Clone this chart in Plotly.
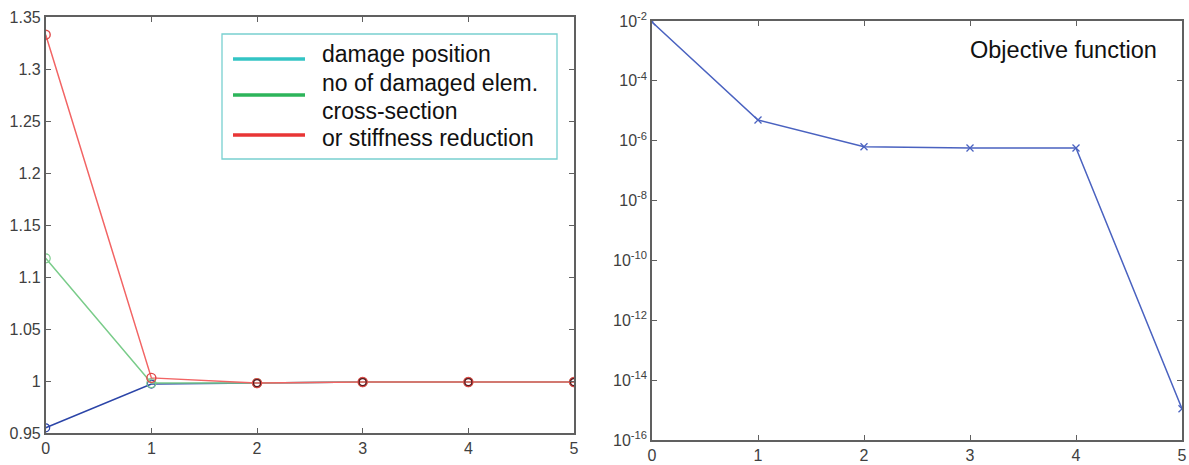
import plotly.graph_objects as go

W, H = 1189, 465

iterations = [0, 1, 2, 3, 4, 5]
damage_position = [0.955, 0.997, 0.998, 0.999, 0.999, 0.999]
damaged_elements = [1.118, 0.998, 0.998, 0.999, 0.999, 0.999]
stiffness_reduction = [1.333, 1.003, 0.998, 0.999, 0.999, 0.999]
objective = [9.3e-3, 4.9e-6, 6.3e-7, 5.7e-7, 5.7e-7, 1.1e-15]

left_yticks = [0.95, 1.0, 1.05, 1.1, 1.15, 1.2, 1.25, 1.3, 1.35]
left_yticktext = ["0.95", "1", "1.05", "1.1", "1.15", "1.2", "1.25", "1.3", "1.35"]
right_exponents = [-16, -14, -12, -10, -8, -6, -4, -2]

legend_labels = ["damage position", "no of damaged elem.", "cross-section", "or stiffness reduction"]
legend_colors = ["#33c4c4", "#2db45a", "#e83535"]

FONT = "Liberation Sans, Arial, sans-serif"

def px(x):
    return x / W

def py(y):
    return 1 - y / H

fig = go.Figure()

fig.add_trace(go.Scatter(x=iterations, y=damage_position, mode="lines+markers",
                         line=dict(color="#2c45a8", width=1.5),
                         marker=dict(symbol="circle-open", size=8, color="#2c45a8", line=dict(width=1.2)),
                         xaxis="x", yaxis="y", showlegend=False))
fig.add_trace(go.Scatter(x=iterations, y=damaged_elements, mode="lines+markers",
                         line=dict(color="#7acc8a", width=1.5),
                         marker=dict(symbol="circle-open", size=9, color="#7acc8a", line=dict(width=1.2)),
                         xaxis="x", yaxis="y", showlegend=False))
fig.add_trace(go.Scatter(x=iterations, y=stiffness_reduction, mode="lines+markers",
                         line=dict(color="#f26464", width=1.5),
                         marker=dict(symbol="circle-open", size=9, color="#e04848", line=dict(width=1.4)),
                         xaxis="x", yaxis="y", showlegend=False))
# dark overlay markers where the curves coincide
fig.add_trace(go.Scatter(x=iterations[2:], y=stiffness_reduction[2:], mode="markers",
                         marker=dict(symbol="circle-open", size=7, color="#5a1a1a", line=dict(width=1.2)),
                         xaxis="x", yaxis="y", showlegend=False, hoverinfo="skip"))

fig.add_trace(go.Scatter(x=iterations, y=objective, mode="lines+markers",
                         line=dict(color="#4a62c0", width=1.5),
                         marker=dict(symbol="x-thin", size=7, color="#4a62c0", line=dict(width=1.3, color="#4a62c0")),
                         xaxis="x2", yaxis="y2", showlegend=False))

axis_common = dict(showgrid=False, zeroline=False, showline=True, linecolor="#606060", linewidth=1.6,
                   mirror="ticks", ticks="inside", ticklen=5, tickcolor="#606060", tickwidth=1.3,
                   tickfont=dict(family=FONT, size=16, color="#404040"),
                   automargin=False)

fig.update_layout(
    width=W, height=H,
    margin=dict(l=0, r=0, t=0, b=0),
    paper_bgcolor="white", plot_bgcolor="white",
    xaxis=dict(domain=[px(45.7), px(574)], range=[0, 5], tickvals=iterations, anchor="y", **axis_common),
    yaxis=dict(domain=[py(433), py(17)], range=[0.95, 1.35], tickvals=left_yticks,
               ticktext=left_yticktext, anchor="x", **axis_common),
    xaxis2=dict(domain=[px(652), px(1182)], range=[0, 5], tickvals=iterations, anchor="y2", **axis_common),
    yaxis2=dict(domain=[py(440), py(21)], type="log", range=[-16, -2],
                tickvals=[10.0 ** e for e in right_exponents],
                ticktext=["10<sup>%d</sup>" % e for e in right_exponents],
                anchor="x2", **axis_common),
)

# legend box for the left panel
fig.add_shape(type="rect", xref="paper", yref="paper",
              x0=px(222), x1=px(557), y0=py(159), y1=py(34),
              line=dict(color="#78d0d0", width=1.3), fillcolor="white")
for color, yline in zip(legend_colors, [59, 95, 135]):
    fig.add_shape(type="line", xref="paper", yref="paper",
                  x0=px(233), x1=px(305), y0=py(yline), y1=py(yline),
                  line=dict(color=color, width=3.5))
for label, ytxt in zip(legend_labels, [54, 83, 111, 138]):
    fig.add_annotation(x=px(320), y=py(ytxt), xref="paper", yref="paper",
                       text=label, showarrow=False, xanchor="left", yanchor="middle",
                       font=dict(family=FONT, size=23, color="#111111"))

fig.add_annotation(x=px(1159), y=py(50), xref="paper", yref="paper",
                   text="Objective function", showarrow=False, xanchor="right", yanchor="middle",
                   font=dict(family=FONT, size=23.5, color="#111111"))

fig.write_html("out.html", config={"displayModeBar": False},
               post_script="document.body.style.margin='0px';document.body.style.overflow='hidden';")
